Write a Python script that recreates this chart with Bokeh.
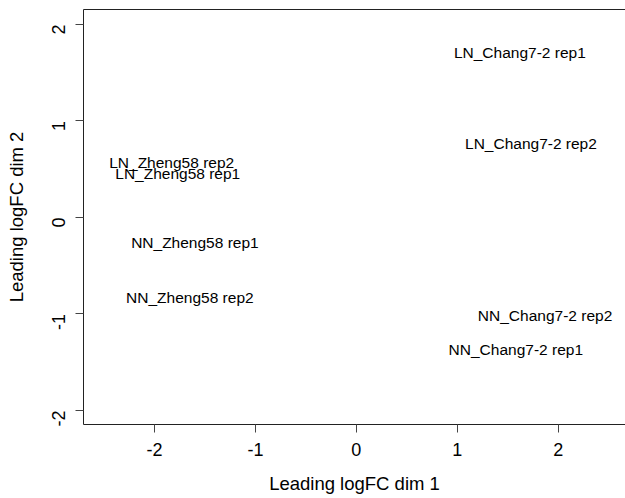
import math
from bokeh.plotting import figure
from bokeh.models import ColumnDataSource, Range1d, FixedTicker, LinearAxis
from bokeh.core.properties import value
from bokeh.embed import file_html
from bokeh.resources import INLINE

labels = ["LN_Chang7-2 rep1", "LN_Chang7-2 rep2", "LN_Zheng58 rep2", "LN_Zheng58 rep1",
          "NN_Zheng58 rep1", "NN_Zheng58 rep2", "NN_Chang7-2 rep2", "NN_Chang7-2 rep1"]
dim1 = [1.62, 1.73, -1.83, -1.77, -1.60, -1.65, 1.87, 1.58]
dim2 = [1.71, 0.77, 0.57, 0.46, -0.26, -0.83, -1.02, -1.37]
x_ticks = [-2, -1, 0, 1, 2]
y_ticks = [-2, -1, 0, 1, 2]

FONT = "Liberation Sans"

p = figure(width=625, height=498, output_backend="svg", toolbar_location=None,
           x_range=Range1d(-2.704, 2.667), y_range=Range1d(-2.145, 2.155),
           min_border_left=83, min_border_top=9, min_border_right=0, min_border_bottom=74)
p.grid.visible = False
p.outline_line_color = None
p.background_fill_color = "white"
p.border_fill_color = "white"

src = ColumnDataSource(dict(x=dim1, y=dim2, t=labels))
p.text(x="x", y="y", text="t", source=src, text_align="center", text_baseline="middle",
       text_font=value(FONT), text_font_size="15.5px", text_color="black")

xax = p.xaxis[0]
yax = p.yaxis[0]
for ax, ticks in ((xax, x_ticks), (yax, y_ticks)):
    ax.ticker = FixedTicker(ticks=ticks)
    ax.major_label_overrides = {t: str(t) for t in ticks}
    ax.axis_line_color = "#222222"
    ax.axis_line_width = 1
    ax.major_tick_line_color = "#444444"
    ax.major_tick_out = 8
    ax.major_tick_in = 0
    ax.minor_tick_line_color = None
    ax.major_label_text_font = FONT
    ax.major_label_text_font_size = "18px"
    ax.major_label_text_color = "black"
    ax.axis_label_text_font = FONT
    ax.axis_label_text_font_size = "18.5px"
    ax.axis_label_text_font_style = "normal"
    ax.axis_label_text_color = "black"

xax.axis_label = "Leading logFC dim 1"
yax.axis_label = "Leading logFC dim 2"
xax.major_label_standoff = 10
xax.axis_label_standoff = 14
yax.major_label_orientation = math.pi / 2
yax.major_label_standoff = 17
yax.axis_label_standoff = 16

top = LinearAxis(ticker=FixedTicker(ticks=[]), axis_line_color="#222222",
                 major_tick_line_color=None, minor_tick_line_color=None,
                 major_tick_out=0, major_tick_in=0,
                 major_label_standoff=0, axis_label_standoff=0,
                 major_label_text_font_size="0px")
p.add_layout(top, "above")

open("out.html", "w").write(file_html(p, INLINE))
